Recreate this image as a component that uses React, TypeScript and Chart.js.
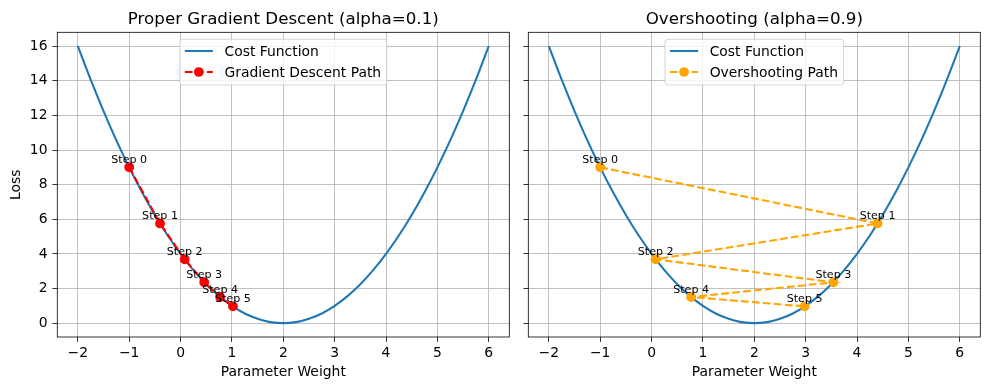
import React, { useEffect, useRef } from 'react';
import { Chart, registerables } from 'chart.js';

Chart.register(...registerables);

// ---------- data ----------
const costX = [-2, -1.75, -1.5, -1.25, -1, -0.75, -0.5, -0.25, 0, 0.25, 0.5, 0.75, 1, 1.25, 1.5, 1.75, 2, 2.25, 2.5, 2.75, 3, 3.25, 3.5, 3.75, 4, 4.25, 4.5, 4.75, 5, 5.25, 5.5, 5.75, 6];
const costY = [16, 14.06, 12.25, 10.56, 9, 7.56, 6.25, 5.06, 4, 3.06, 2.25, 1.56, 1, 0.56, 0.25, 0.06, 0, 0.06, 0.25, 0.56, 1, 1.56, 2.25, 3.06, 4, 5.06, 6.25, 7.56, 9, 10.56, 12.25, 14.06, 16];

const stepLabels = ['Step 0', 'Step 1', 'Step 2', 'Step 3', 'Step 4', 'Step 5'];

const gdX = [-1, -0.4, 0.08, 0.46, 0.77, 1.02];
const gdY = [9, 5.76, 3.69, 2.36, 1.51, 0.97];

const osX = [-1, 4.4, 0.08, 3.54, 0.77, 2.98];
const osY = [9, 5.76, 3.69, 2.36, 1.51, 0.97];

const xTicks = [-2, -1, 0, 1, 2, 3, 4, 5, 6];
const yTicks = [0, 2, 4, 6, 8, 10, 12, 14, 16];

const FONT = "'DejaVu Sans', sans-serif";

const fmt = (v: number) => (v < 0 ? '\u2212' + Math.abs(v) : String(v));

interface PanelOpts {
  title: string;
  pathLabel: string;
  color: string;
  px: number[];
  py: number[];
  showY: boolean;
  yWidth: number;
  padRight: number;
}

function makeOverlay(o: PanelOpts) {
  return {
    id: 'overlay',
    afterDraw(chart: any) {
      const { ctx, chartArea } = chart;
      const { left, right, top, bottom } = chartArea;
      const xs = chart.scales.x;
      const ys = chart.scales.y;
      ctx.save();
      // spines
      ctx.strokeStyle = '#000';
      ctx.lineWidth = 0.8;
      ctx.strokeRect(left, top, right - left, bottom - top);

      // annotations
      ctx.fillStyle = '#000';
      ctx.font = `11.1px ${FONT}`;
      ctx.textAlign = 'center';
      ctx.textBaseline = 'alphabetic';
      o.px.forEach((x, i) => {
        const X = xs.getPixelForValue(x);
        const Y = ys.getPixelForValue(o.py[i]);
        ctx.fillText(stepLabels[i], X, Y - 4);
      });

      // title
      ctx.font = `16.7px ${FONT}`;
      ctx.fillText(o.title, (left + right) / 2, 24);

      // legend
      ctx.font = `13.9px ${FONT}`;
      const labels = ['Cost Function', o.pathLabel];
      const tw = Math.max(...labels.map((l) => ctx.measureText(l).width));
      const w = 44.6 + tw + 5.6;
      const h = 45.7;
      const bx = (left + right) / 2 - w / 2;
      const by = top + 7;
      ctx.beginPath();
      const r = 2.8;
      ctx.moveTo(bx + r, by);
      ctx.lineTo(bx + w - r, by);
      ctx.arcTo(bx + w, by, bx + w, by + r, r);
      ctx.lineTo(bx + w, by + h - r);
      ctx.arcTo(bx + w, by + h, bx + w - r, by + h, r);
      ctx.lineTo(bx + r, by + h);
      ctx.arcTo(bx, by + h, bx, by + h - r, r);
      ctx.lineTo(bx, by + r);
      ctx.arcTo(bx, by, bx + r, by, r);
      ctx.closePath();
      ctx.fillStyle = 'rgba(255,255,255,0.8)';
      ctx.fill();
      ctx.strokeStyle = 'rgba(204,204,204,0.8)';
      ctx.lineWidth = 1;
      ctx.stroke();

      const hx0 = bx + 5;
      const hx1 = bx + 33;
      // row 1: cost function
      ctx.strokeStyle = '#1f77b4';
      ctx.lineWidth = 2.08;
      ctx.beginPath();
      ctx.moveTo(hx0, by + 11.7);
      ctx.lineTo(hx1, by + 11.7);
      ctx.stroke();
      // row 2: path
      ctx.strokeStyle = o.color;
      ctx.setLineDash([7.7, 3.3]);
      ctx.beginPath();
      ctx.moveTo(hx0, by + 32.7);
      ctx.lineTo(hx1, by + 32.7);
      ctx.stroke();
      ctx.setLineDash([]);
      ctx.fillStyle = o.color;
      ctx.beginPath();
      ctx.arc((hx0 + hx1) / 2, by + 32.7, 4.85, 0, Math.PI * 2);
      ctx.fill();

      ctx.fillStyle = '#000';
      ctx.textAlign = 'left';
      ctx.fillText(labels[0], bx + 44.6, by + 16.7);
      ctx.fillText(labels[1], bx + 44.6, by + 37.7);
      ctx.restore();
    },
  };
}

function makeConfig(o: PanelOpts): any {
  const gridCfg = {
    color: '#b0b0b0',
    lineWidth: 0.8,
    tickColor: '#000',
    tickLength: 4.9,
    tickWidth: 0.8,
  };
  return {
    type: 'line',
    data: {
      datasets: [
        {
          label: o.pathLabel,
          data: o.px.map((x, i) => ({ x, y: o.py[i] })),
          borderColor: o.color,
          backgroundColor: o.color,
          borderWidth: 2.08,
          borderDash: [7.7, 3.3],
          pointRadius: 4.2,
          pointHoverRadius: 4.2,
          pointBorderWidth: 1.4,
          pointBorderColor: o.color,
          pointBackgroundColor: o.color,
          tension: 0,
          order: 0,
        },
        {
          label: 'Cost Function',
          data: costX.map((x, i) => ({ x, y: costY[i] })),
          borderColor: '#1f77b4',
          backgroundColor: '#1f77b4',
          borderWidth: 2.08,
          pointRadius: 0,
          cubicInterpolationMode: 'monotone',
          order: 1,
        },
      ],
    },
    options: {
      animation: false,
      responsive: false,
      maintainAspectRatio: false,
      events: [],
      layout: { padding: { top: 32.3, right: o.padRight, left: 0, bottom: 0 } },
      plugins: {
        legend: { display: false },
        tooltip: { enabled: false },
        title: { display: false },
      },
      scales: {
        x: {
          type: 'linear',
          min: -2.4,
          max: 6.4,
          afterBuildTicks: (s: any) => {
            s.ticks = xTicks.map((v) => ({ value: v }));
          },
          afterFit: (s: any) => {
            s.height = 53;
          },
          grid: gridCfg,
          border: { display: false },
          ticks: {
            color: '#000',
            font: { family: FONT, size: 13.9 },
            padding: 3.5,
            maxRotation: 0,
            autoSkip: false,
            callback: (v: number) => fmt(v),
          },
          title: {
            display: true,
            text: 'Parameter Weight',
            color: '#000',
            font: { family: FONT, size: 13.9 },
            padding: { top: 0, bottom: 9.4 },
          },
        },
        y: {
          type: 'linear',
          min: -0.8,
          max: 16.8,
          afterBuildTicks: (s: any) => {
            s.ticks = yTicks.map((v) => ({ value: v }));
          },
          afterFit: (s: any) => {
            s.width = o.yWidth;
          },
          grid: gridCfg,
          border: { display: false },
          ticks: {
            color: '#000',
            font: { family: FONT, size: 13.9 },
            padding: 4.9,
            autoSkip: false,
            callback: (v: number) => (o.showY ? fmt(v) : ''),
          },
          title: {
            display: o.showY,
            text: 'Loss',
            color: '#000',
            font: { family: FONT, size: 13.9 },
            padding: { top: 8.3, bottom: 0 },
          },
        },
      },
    },
    plugins: [makeOverlay(o)],
  };
}

const leftOpts: PanelOpts = {
  title: 'Proper Gradient Descent (alpha=0.1)',
  pathLabel: 'Gradient Descent Path',
  color: '#ff0000',
  px: gdX,
  py: gdY,
  showY: true,
  yWidth: 57.3,
  padRight: 8.7,
};

const rightOpts: PanelOpts = {
  title: 'Overshooting (alpha=0.9)',
  pathLabel: 'Overshooting Path',
  color: '#ffa500',
  px: osX,
  py: osY,
  showY: false,
  yWidth: 10.3,
  padRight: 9.7,
};

function Panel({ opts, left, width }: { opts: PanelOpts; left: number; width: number }) {
  const ref = useRef<HTMLCanvasElement | null>(null);
  useEffect(() => {
    if (!ref.current) return;
    const chart = new Chart(ref.current, makeConfig(opts));
    return () => chart.destroy();
  }, [opts]);
  return (
    <canvas
      ref={ref}
      width={width}
      height={390}
      style={{ position: 'absolute', left, top: 0, width, height: 390 }}
    />
  );
}

export default function App() {
  return (
    <div style={{ position: 'absolute', left: 0, top: 0, width: 990, height: 390, background: '#fff' }}>
      <Panel opts={leftOpts} left={0} width={518} />
      <Panel opts={rightOpts} left={518} width={472} />
    </div>
  );
}
